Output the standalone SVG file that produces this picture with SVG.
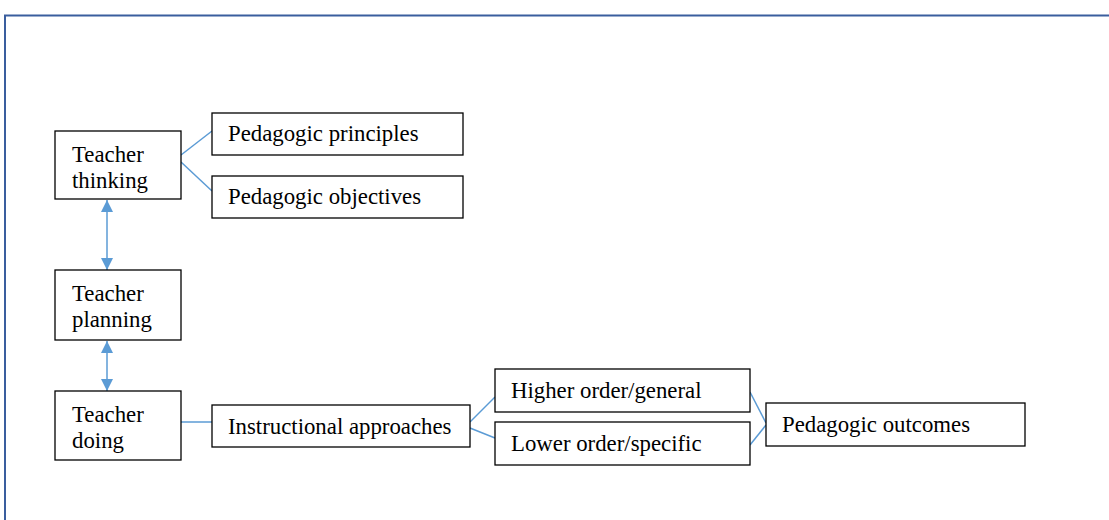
<svg xmlns="http://www.w3.org/2000/svg" width="1109" height="520" viewBox="0 0 1109 520">
<style>
.box{fill:#fff;stroke:#000;stroke-width:1.3}
.t{font-family:"Liberation Serif","Times New Roman",serif;font-size:22.8px;fill:#000}
.c{stroke:#5b9bd5;stroke-width:1.5;fill:none}
</style>
<defs>
<marker id="ah" viewBox="0 0 10 10" refX="10" refY="5" markerWidth="12" markerHeight="12" markerUnits="userSpaceOnUse" orient="auto-start-reverse">
<path d="M0,0 L10,5 L0,10 z" fill="#5b9bd5"/>
</marker>
</defs>
<rect width="1109" height="520" fill="#fff"/>
<path d="M5,520 V15.5 H1109" fill="none" stroke="#3a5e9e" stroke-width="2"/>
<g id="connectors">
<line class="c" x1="181" y1="155" x2="212" y2="131"/>
<line class="c" x1="181" y1="162" x2="212" y2="191"/>
<line class="c" x1="107" y1="200" x2="107" y2="270" marker-start="url(#ah)" marker-end="url(#ah)"/>
<line class="c" x1="107" y1="341" x2="107" y2="391" marker-start="url(#ah)" marker-end="url(#ah)"/>
<line class="c" x1="181" y1="422" x2="212" y2="422"/>
<line class="c" x1="470" y1="422" x2="495" y2="397"/>
<line class="c" x1="470" y1="428" x2="495" y2="438"/>
<line class="c" x1="750" y1="392" x2="766" y2="423"/>
<line class="c" x1="750" y1="445" x2="766" y2="425"/>
</g>
<g id="teacher-thinking"><rect class="box" x="55" y="131" width="126" height="68"/><text class="t" x="72" y="162">Teacher</text><text class="t" x="72" y="188">thinking</text></g>
<g id="pedagogic-principles"><rect class="box" x="212" y="113" width="251" height="42"/><text class="t" x="228" y="141">Pedagogic principles</text></g>
<g id="pedagogic-objectives"><rect class="box" x="212" y="176" width="251" height="42"/><text class="t" x="228" y="204">Pedagogic objectives</text></g>
<g id="teacher-planning"><rect class="box" x="55" y="270" width="126" height="70"/><text class="t" x="72" y="301">Teacher</text><text class="t" x="72" y="327">planning</text></g>
<g id="teacher-doing"><rect class="box" x="55" y="391" width="126" height="69"/><text class="t" x="72" y="422">Teacher</text><text class="t" x="72" y="448">doing</text></g>
<g id="instructional-approaches"><rect class="box" x="212" y="405" width="258" height="42"/><text class="t" x="228" y="434">Instructional approaches</text></g>
<g id="higher-order"><rect class="box" x="495" y="369" width="255" height="43"/><text class="t" x="511" y="398">Higher order/general</text></g>
<g id="lower-order"><rect class="box" x="495" y="422" width="255" height="43"/><text class="t" x="511" y="451">Lower order/specific</text></g>
<g id="pedagogic-outcomes"><rect class="box" x="766" y="403" width="259" height="43"/><text class="t" x="782" y="432">Pedagogic outcomes</text></g>
</svg>
